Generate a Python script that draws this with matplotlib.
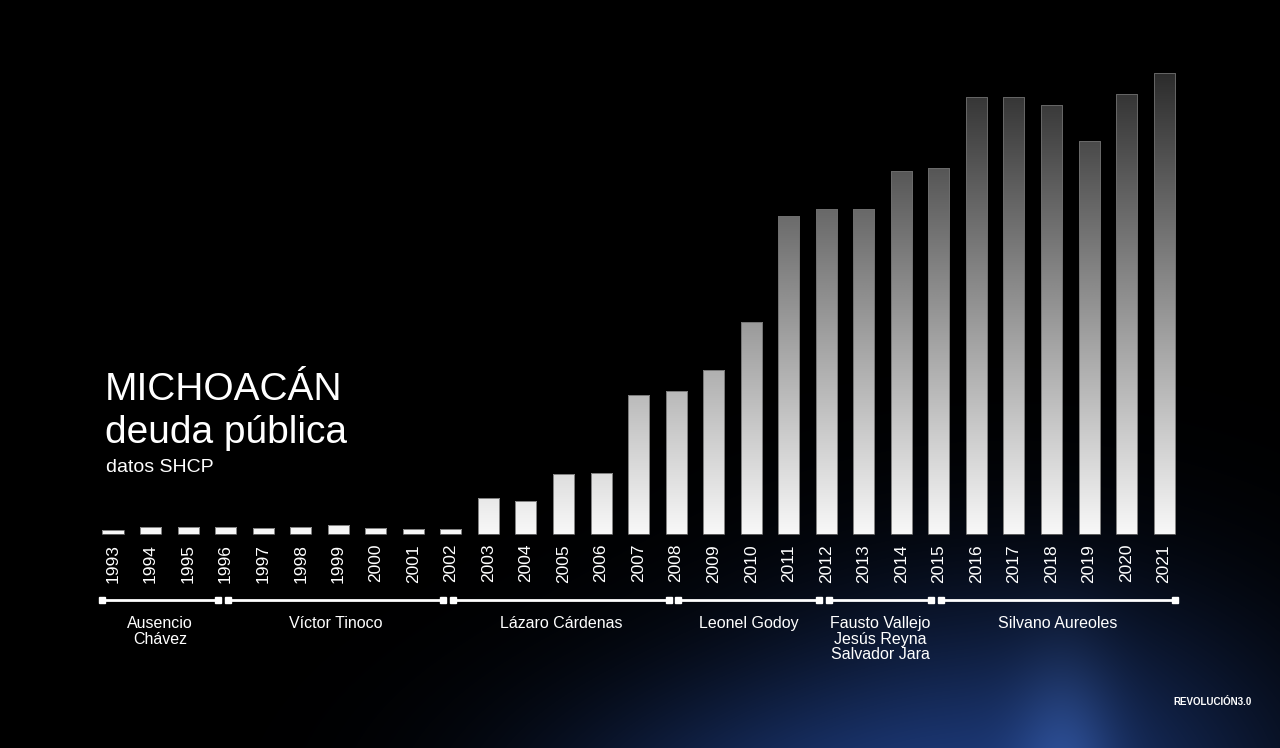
import numpy as np
import matplotlib
matplotlib.use("Agg")
import matplotlib.pyplot as plt
from matplotlib.colors import LinearSegmentedColormap

plt.rcParams['font.family'] = ['Liberation Sans', 'DejaVu Sans']

# --- data (bar heights, relative units) ---
years = list(range(1993, 2022))
deuda = [4, 7, 7, 7, 6, 7, 9, 6, 5, 5,
         36, 33, 60, 61, 139, 143, 164, 212, 318, 325,
         325, 363, 366, 437, 437, 429, 393, 440, 461]

# governors: label, first year, last year
gobernadores = ["Ausencio\nChávez", "Víctor Tinoco", "Lázaro Cárdenas",
                "Leonel Godoy", "Fausto Vallejo\nJesús Reyna\nSalvador Jara",
                "Silvano Aureoles"]
inicio = [1993, 1996, 2002, 2008, 2012, 2015]
fin = [1996, 2002, 2008, 2012, 2015, 2021]

W, H = 1280, 748
fig = plt.figure(figsize=(W / 100, H / 100), dpi=100)

# background: black with a blue glow at the bottom right
bg_ax = fig.add_axes([0, 0, 1, 1])
yy, xx = np.mgrid[0:H, 0:W]
glow = np.exp(-(((xx - 1010) / 280.0) ** 2 + ((yy - 800) / 200.0) ** 2))
glow += 0.45 * np.exp(-(((xx - 720) / 240.0) ** 2 + ((yy - 810) / 130.0) ** 2))
beam = 0.35 * np.exp(-(((xx - 1065) / 50.0) ** 2 + ((yy - 770) / 120.0) ** 2))
img = np.zeros((H, W, 3))
img[..., 0] = 0.10 * glow + 0.22 * beam
img[..., 1] = 0.20 * glow + 0.32 * beam
img[..., 2] = 0.42 * glow + 0.50 * beam
bg_ax.imshow(np.clip(img, 0, 1), extent=[0, W, H, 0], aspect='auto')
bg_ax.set_axis_off()

# main axes mapped so the bars land where they are in the picture
ax = fig.add_axes([0, 0, 1, 1])
ax.patch.set_alpha(0)
step = 37.54
x0 = 113
ax.set_xlim(-x0 / step, (W - x0) / step)
ax.set_ylim(-(H - 534), 534)
ax.set_axis_off()

x = np.arange(len(years))
cmap = LinearSegmentedColormap.from_list("gris", ["#f8f8f8", "#2c2c2c"])
grad = np.linspace(0, 1, 256).reshape(-1, 1)
top = max(deuda)
bars = ax.bar(x, deuda, width=0.56, facecolor='none', edgecolor='#6e6e6e',
              linewidth=0.6, zorder=3)
for b in bars:
    im = ax.imshow(grad, cmap=cmap, origin='lower', aspect='auto',
                   extent=[b.get_x(), b.get_x() + b.get_width(), 0, top],
                   zorder=2)
    im.set_clip_path(b)

# year labels
for xi, yr in zip(x, years):
    ax.text(xi, -10, str(yr), rotation=90, ha='center', va='top',
            color='white', fontsize=12.5)

# timeline of governors
y_line = -66
for k, (nombre, a, b) in enumerate(zip(gobernadores, inicio, fin)):
    xa = (a - 1993) + 0.06 if k > 0 else -0.28
    xb = (b - 1993) - 0.2 if k < len(gobernadores) - 1 else (b - 1993) + 0.29
    ax.plot([xa, xb], [y_line, y_line], color='white', lw=2, zorder=3)
    ax.plot([xa, xb], [y_line, y_line], ls='none', marker='s', ms=5,
            color='white', zorder=4)
    ax.text((xa + xb) / 2, y_line - 16, nombre, ha='center', va='top',
            color='white', fontsize=11.5, linespacing=1.05)

# titles
fig.text(105 / W, 1 - 400 / H, "MICHOACÁN", color='white', fontsize=28,
         ha='left', va='baseline')
fig.text(105 / W, 1 - 443 / H, "deuda pública", color='white', fontsize=28,
         ha='left', va='baseline')
fig.text(106 / W, 1 - 472 / H, "datos SHCP", color='white', fontsize=14,
         ha='left', va='baseline')

# logo text
fig.text(1213 / W, 1 - 702 / H, "REVOLUCIÓN3.0", color='white', fontsize=7,
         fontweight='bold', ha='center', va='center')

fig.savefig("out.png", dpi=100, facecolor='black')
